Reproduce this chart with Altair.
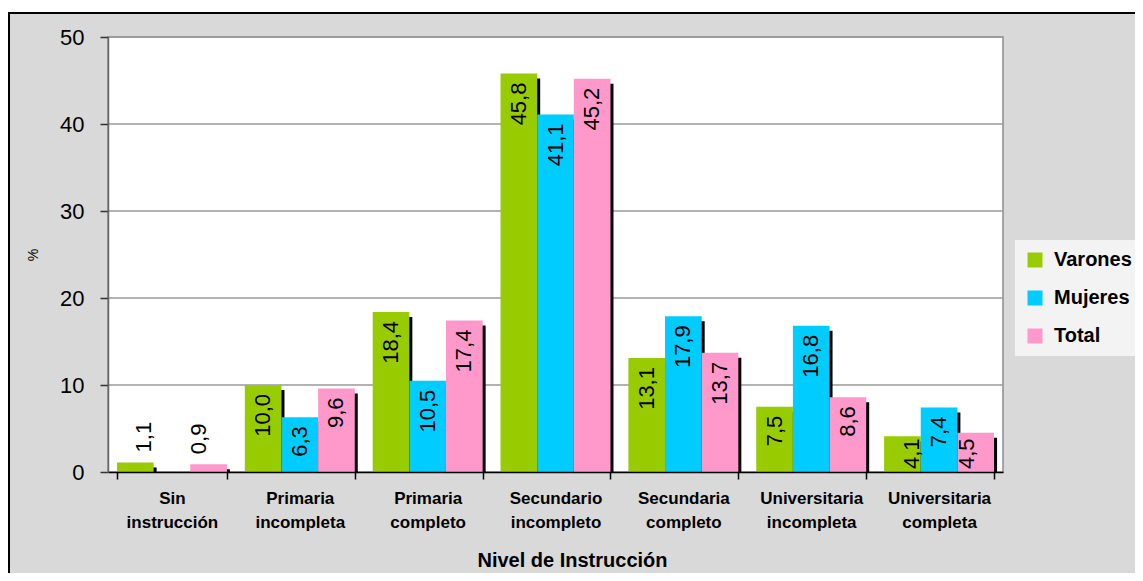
import altair as alt
import pandas as pd

CATEGORIES = ["Sin instrucción", "Primaria incompleta", "Primaria completo",
              "Secundario incompleto", "Secundaria completo",
              "Universitaria incompleta", "Universitaria completa"]
SERIES = ["Varones", "Mujeres", "Total"]
VARONES = [1.1, 10.0, 18.4, 45.8, 13.1, 7.5, 4.1]
MUJERES = [0.0, 6.3, 10.5, 41.1, 17.9, 16.8, 7.4]
TOTAL = [0.9, 9.6, 17.4, 45.2, 13.7, 8.6, 4.5]
Y_TICKS = [0, 10, 20, 30, 40, 50]
COLORS = ["#99cc00", "#00ccff", "#ff99cc"]

rows = []
for s, vals in zip(SERIES, [VARONES, MUJERES, TOTAL]):
    for c, v in zip(CATEGORIES, vals):
        rows.append({"cat": c, "series": s, "value": v,
                     "label": f"{v:.1f}".replace(".", ","), "zero": 0})
df = pd.DataFrame(rows)
grid_df = pd.DataFrame({"v": Y_TICKS[1:]})

FONT = "Arial, Liberation Sans, sans-serif"
W, H = 895, 435
PAD = {"left": 100, "top": 29, "right": 132, "bottom": 101}

yscale = alt.Scale(domain=[0, 50])
yaxis = alt.Axis(title="%", values=Y_TICKS, grid=False, domainColor="#666666",
                 domainWidth=1.5, tickColor="#333333", tickSize=8, tickWidth=1.5,
                 labelFont=FONT, labelFontSize=22, labelColor="black", labelPadding=16,
                 titleFont=FONT, titleFontSize=14, titleFontWeight="normal",
                 titlePadding=19, titleColor="black", zindex=1)
xaxis = alt.Axis(title="Nivel de Instrucción", labelAngle=0,
                 labelExpr="split(datum.label, ' ')", labelFont=FONT, labelFontSize=17,
                 labelFontWeight="bold", labelColor="black", labelLineHeight=24,
                 labelPadding=11, tickBand="extent", tickSize=7, tickColor="black",
                 tickWidth=1.5, domainColor="black", domainWidth=1.5,
                 titleFont=FONT, titleFontSize=20, titleFontWeight="bold",
                 titleColor="black", titlePadding=20, titleX=464, zindex=1)

X = alt.X("cat:N", sort=CATEGORIES, scale=alt.Scale(paddingInner=0.14, paddingOuter=0.07), axis=xaxis)
XO = alt.XOffset("series:N", sort=SERIES)
Y = alt.Y("value:Q", scale=yscale, axis=yaxis, stack=False)

one = alt.Data(values=[{"k": 1}])

bg = alt.Chart(one).mark_rect(fill="#d9d9d9", stroke="black", strokeWidth=2).encode(
    x=alt.value(-PAD["left"] + 1), x2=alt.value(W + PAD["right"] + 3),
    y=alt.value(-PAD["top"] + 5), y2=alt.value(H + PAD["bottom"] + 3))

plot_bg = alt.Chart(one).mark_rect(fill="white", stroke="#8c8c8c", strokeWidth=1.5).encode(
    x=alt.value(0), x2=alt.value(W), y=alt.value(0), y2=alt.value(H))

grid = alt.Chart(grid_df).mark_rule(color="#9a9a9a", strokeWidth=1.5).encode(
    y=alt.Y("v:Q", scale=yscale, axis=yaxis), x=alt.value(0), x2=alt.value(W))

base = alt.Chart(df).transform_filter("datum.value > 0")

shadow = base.mark_bar(color="black", yOffset=5).encode(
    x=X,
    xOffset=alt.XOffset("series:N", sort=SERIES,
                        scale=alt.Scale(range=[3, {"expr": "bandwidth('x') + 3"}])),
    y=Y)

color = alt.Color("series:N", sort=SERIES,
                  scale=alt.Scale(domain=SERIES, range=COLORS),
                  legend=alt.Legend(title=None, orient="none", legendX=907, legendY=203,
                                    symbolType="square", symbolSize=225,
                                    symbolStrokeWidth=0, symbolOpacity=1,
                                    labelFont=FONT, labelFontSize=20,
                                    labelFontWeight="bold", labelColor="black",
                                    labelOffset=9, rowPadding=18, padding=10,
                                    fillColor="#f3f3f3"))

bars = base.mark_bar().encode(x=X, xOffset=XO, y=Y, color=color)

tcommon = dict(angle=270, baseline="middle", font=FONT, fontSize=22, color="black")
lab_in = base.transform_filter("datum.value >= 6").mark_text(
    align="right", dx=-9, **tcommon).encode(x=X, xOffset=XO, y=Y, text="label:N")
lab_low = base.transform_filter("datum.value >= 2 && datum.value < 6").mark_text(
    align="left", dx=3, **tcommon).encode(
    x=X, xOffset=XO, y=alt.Y("zero:Q", scale=yscale, axis=yaxis), text="label:N")
lab_out = base.transform_filter("datum.value < 2").mark_text(
    align="left", dx=10, **tcommon).encode(x=X, xOffset=XO, y=Y, text="label:N")

chart = alt.layer(bg, plot_bg, grid, shadow, bars, lab_in, lab_low, lab_out).resolve_scale(
    xOffset="independent"
).properties(
    width=W, height=H, padding=PAD, autosize=alt.AutoSizeParams(type="none")
).configure(background="white").configure_view(stroke="transparent")

chart.save("out.html", embed_options={"renderer": "svg", "actions": False})
